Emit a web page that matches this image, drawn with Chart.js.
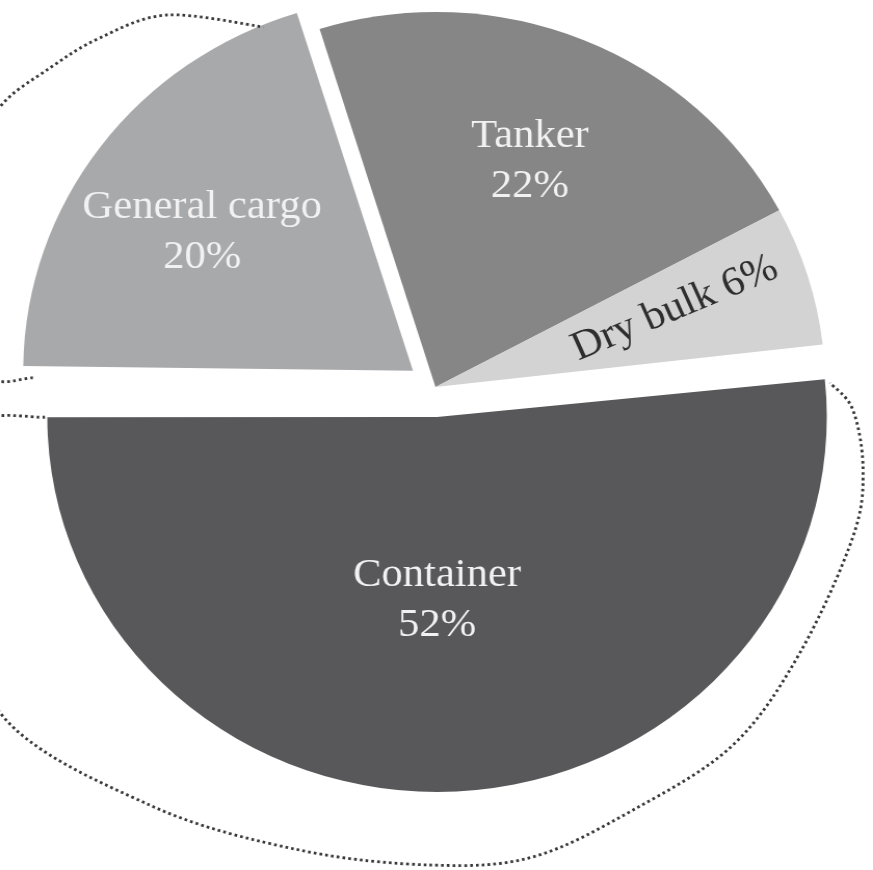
<!DOCTYPE html>
<html>
<head>
<meta charset="utf-8">
<script src="https://cdn.jsdelivr.net/npm/chart.js@4/dist/chart.umd.min.js"></script>
<style>
  html, body { margin: 0; padding: 0; background: #ffffff; overflow: hidden; }
  /* a figura original é um pouco esticada na horizontal */
  #wrap { width: 840px; height: 870px; position: relative; transform: scaleX(1.0393); transform-origin: 0 0; }
</style>
</head>
<body>
<div id="wrap"><canvas id="grafico-frota"></canvas></div>
<script>
// dados do gráfico
const categorias = ['Container', 'General cargo', 'Tanker', 'Dry bulk'];
const percentuais = [52, 20, 22, 6];
const cores = ['#58585a', '#a8a9ab', '#868686', '#d3d3d3'];
const destaque = [120, 108, 0, 0]; // deslocamento das fatias (Chart.js usa offset/4)

// onde vai cada rótulo (fração do raio, ajuste de ângulo em graus, giro do texto)
const rotuloRaio = [0.517, 0.640, 0.623, 0.652];
const rotuloAngulo = [2.9, -4.4, 0.6, 1.0];
const rotuloGiro = [0, 0, 0, -23.5];
const rotuloCor = ['#f2f2f2', '#f2f2f2', '#f2f2f2', '#2e2e2e'];
const rotuloLinhas = [
  ['Container', '52%'],
  ['General cargo', '20%'],
  ['Tanker', '22%'],
  ['Dry bulk 6%']
];

// contorno pontilhado (em unidades do raio, a partir do centro da pizza)
const contornoBaixo = [
  [-1.002, 0.080], [-1.194, 0.115], [-1.220, 0.461], [-1.117, 0.869], [-0.733, 1.115],
  [-0.348, 1.235], [-0.006, 1.275], [0.250, 1.253], [0.507, 1.128], [0.763, 0.955],
  [0.935, 0.709], [1.071, 0.400], [1.097, 0.221], [1.071, 0.061], [1.012, -0.011]
];
const contornoTopo = [
  [-1.033, -0.024], [-1.169, -0.045], [-1.233, -0.365], [-1.169, -0.605], [-1.117, -0.747],
  [-0.989, -0.851], [-0.861, -0.931], [-0.689, -0.992], [-0.442, -0.960]
];

function curvaSuave(ctx, pts) {
  ctx.moveTo(pts[0][0], pts[0][1]);
  for (let i = 0; i < pts.length - 1; i++) {
    const p0 = pts[i - 1] || pts[i];
    const p1 = pts[i];
    const p2 = pts[i + 1];
    const p3 = pts[i + 2] || p2;
    ctx.bezierCurveTo(
      p1[0] + (p2[0] - p0[0]) / 6, p1[1] + (p2[1] - p0[1]) / 6,
      p2[0] - (p3[0] - p1[0]) / 6, p2[1] - (p3[1] - p1[1]) / 6,
      p2[0], p2[1]
    );
  }
}

const pluginRotulos = {
  id: 'rotulos',
  // o Chart.js aumenta o raio das fatias grandes quando há offset; aqui compensa
  afterDatasetUpdate(chart) {
    const meta = chart.getDatasetMeta(0);
    const R = meta.controller.outerRadius;
    meta.data.forEach((arc, i) => {
      const circ = arc.endAngle - arc.startAngle;
      const fix = 1 - Math.sin(Math.min(Math.PI, circ));
      arc.outerRadius = R - (destaque[i] / 4) * fix;
    });
  },
  afterDatasetsDraw(chart) {
    const ctx = chart.ctx;
    const meta = chart.getDatasetMeta(0);
    const arcos = meta.data;
    const cx = arcos[0].x, cy = arcos[0].y, R = meta.controller.outerRadius;

    ctx.save();
    ctx.strokeStyle = '#383838';
    ctx.lineWidth = 2.8;
    ctx.setLineDash([2.6, 3.0]);
    [contornoBaixo, contornoTopo].forEach(c => {
      ctx.beginPath();
      curvaSuave(ctx, c.map(p => [cx + p[0] * R, cy + p[1] * R]));
      ctx.stroke();
    });
    ctx.restore();

    arcos.forEach((arc, i) => {
      const meio = (arc.startAngle + arc.endAngle) / 2;
      const d = destaque[i] / 4;
      const ax = arc.x + Math.cos(meio) * d;
      const ay = arc.y + Math.sin(meio) * d;
      const ang = meio + rotuloAngulo[i] * Math.PI / 180;
      const px = ax + Math.cos(ang) * R * rotuloRaio[i];
      const py = ay + Math.sin(ang) * R * rotuloRaio[i];
      const linhas = rotuloLinhas[i];
      ctx.save();
      ctx.translate(px, py);
      ctx.rotate(rotuloGiro[i] * Math.PI / 180);
      ctx.font = '41px "Liberation Serif", "Times New Roman", serif';
      ctx.fillStyle = rotuloCor[i];
      ctx.textAlign = 'center';
      ctx.textBaseline = 'alphabetic';
      const passo = 50;
      const y0 = -(linhas.length - 1) * passo / 2;
      linhas.forEach((t, k) => ctx.fillText(t, 0, y0 + k * passo));
      ctx.restore();
    });
  }
};

const canvas = document.getElementById('grafico-frota');
if (canvas) {
  new Chart(canvas.getContext('2d'), {
    type: 'pie',
    data: {
      labels: categorias,
      datasets: [{
        data: percentuais,
        backgroundColor: cores,
        borderWidth: 0,
        offset: destaque,
        hoverOffset: 0,
        clip: false
      }]
    },
    options: {
      responsive: true,
      maintainAspectRatio: false,
      animation: false,
      events: [],
      rotation: 83.5,
      radius: 375,
      layout: { padding: { left: 0, right: 2, top: 0, bottom: 96 } },
      plugins: {
        legend: { display: false },
        tooltip: { enabled: false },
        title: { display: false }
      }
    },
    plugins: [pluginRotulos]
  });
} else {
  console.error('Canvas do gráfico não encontrado!');
}
</script>
</body>
</html>
